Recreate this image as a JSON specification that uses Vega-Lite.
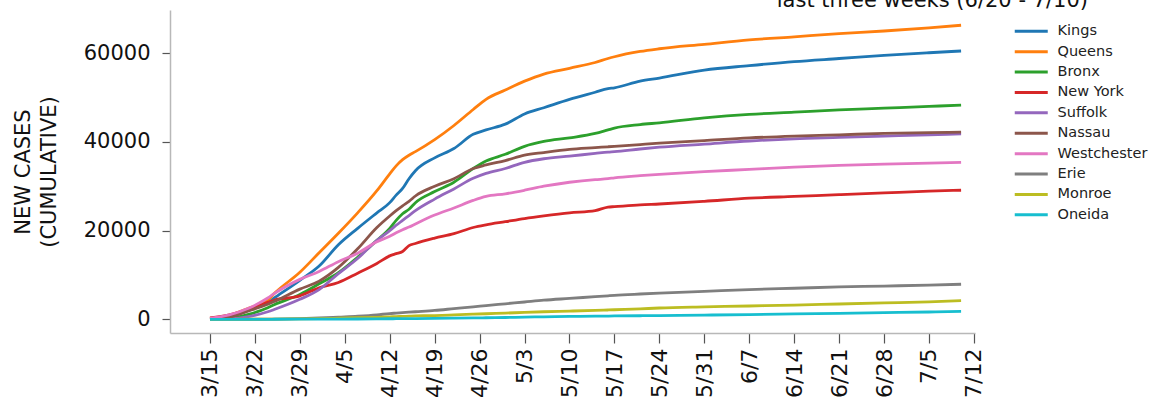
{
  "$schema": "https://vega.github.io/schema/vega-lite/v6.json",
  "width": 805,
  "height": 323,
  "autosize": {"type": "none"},
  "padding": {"left": 170, "top": 10, "right": 187, "bottom": 76},
  "background": "white",
  "title": {
    "text": "last three weeks (6/20 - 7/10)",
    "anchor": "end",
    "frame": "group",
    "dx": 113,
    "dy": 18,
    "offset": 0,
    "baseline": "alphabetic",
    "font": "DejaVu Sans",
    "fontSize": 21,
    "fontWeight": "normal",
    "color": "#111"
  },
  "data": {
    "values": [
      {"date": "2020-03-15", "Kings": 100, "Queens": 200, "Bronx": 0, "New York": 300, "Suffolk": 0, "Nassau": 0, "Westchester": 200, "Erie": 0, "Monroe": 0, "Oneida": 0},
      {"date": "2020-03-18", "Kings": 600, "Queens": 900, "Bronx": 200, "New York": 1000, "Suffolk": 100, "Nassau": 500, "Westchester": 1000, "Erie": 0, "Monroe": 0, "Oneida": 0},
      {"date": "2020-03-21", "Kings": 2000, "Queens": 2500, "Bronx": 1100, "New York": 2200, "Suffolk": 600, "Nassau": 1900, "Westchester": 2500, "Erie": 10, "Monroe": 10, "Oneida": 0},
      {"date": "2020-03-24", "Kings": 3800, "Queens": 4300, "Bronx": 2600, "New York": 3800, "Suffolk": 1700, "Nassau": 3400, "Westchester": 4800, "Erie": 30, "Monroe": 20, "Oneida": 0},
      {"date": "2020-03-25", "Kings": 4800, "Queens": 5800, "Bronx": 3300, "New York": 4300, "Suffolk": 2200, "Nassau": 4000, "Westchester": 5800, "Erie": 40, "Monroe": 30, "Oneida": 5},
      {"date": "2020-03-29", "Kings": 8800, "Queens": 10600, "Bronx": 5600, "New York": 5300, "Suffolk": 4500, "Nassau": 6800, "Westchester": 9000, "Erie": 150, "Monroe": 100, "Oneida": 20},
      {"date": "2020-04-01", "Kings": 12000, "Queens": 15000, "Bronx": 8000, "New York": 7100, "Suffolk": 6700, "Nassau": 8600, "Westchester": 10800, "Erie": 300, "Monroe": 150, "Oneida": 30},
      {"date": "2020-04-04", "Kings": 16800, "Queens": 19400, "Bronx": 10500, "New York": 8300, "Suffolk": 10300, "Nassau": 11700, "Westchester": 13000, "Erie": 500, "Monroe": 250, "Oneida": 50},
      {"date": "2020-04-07", "Kings": 20500, "Queens": 24000, "Bronx": 14000, "New York": 10400, "Suffolk": 13700, "Nassau": 15900, "Westchester": 14900, "Erie": 700, "Monroe": 350, "Oneida": 70},
      {"date": "2020-04-10", "Kings": 24000, "Queens": 29000, "Bronx": 17800, "New York": 12600, "Suffolk": 17800, "Nassau": 20700, "Westchester": 17500, "Erie": 1000, "Monroe": 450, "Oneida": 100},
      {"date": "2020-04-12", "Kings": 26300, "Queens": 32800, "Bronx": 20500, "New York": 14300, "Suffolk": 20000, "Nassau": 23300, "Westchester": 18700, "Erie": 1300, "Monroe": 550, "Oneida": 120},
      {"date": "2020-04-13", "Kings": 28000, "Queens": 34600, "Bronx": 22300, "New York": 14800, "Suffolk": 21200, "Nassau": 24500, "Westchester": 19500, "Erie": 1400, "Monroe": 600, "Oneida": 130},
      {"date": "2020-04-14", "Kings": 29500, "Queens": 36000, "Bronx": 23800, "New York": 15300, "Suffolk": 22300, "Nassau": 25600, "Westchester": 20200, "Erie": 1500, "Monroe": 650, "Oneida": 140},
      {"date": "2020-04-15", "Kings": 31700, "Queens": 37000, "Bronx": 24800, "New York": 16600, "Suffolk": 23400, "Nassau": 26600, "Westchester": 20800, "Erie": 1600, "Monroe": 700, "Oneida": 150},
      {"date": "2020-04-16", "Kings": 33500, "Queens": 37800, "Bronx": 26300, "New York": 17100, "Suffolk": 24500, "Nassau": 27800, "Westchester": 21500, "Erie": 1700, "Monroe": 750, "Oneida": 160},
      {"date": "2020-04-19", "Kings": 36400, "Queens": 40500, "Bronx": 28800, "New York": 18300, "Suffolk": 27100, "Nassau": 30000, "Westchester": 23500, "Erie": 2000, "Monroe": 850, "Oneida": 200},
      {"date": "2020-04-22", "Kings": 38500, "Queens": 43700, "Bronx": 30900, "New York": 19300, "Suffolk": 29400, "Nassau": 31700, "Westchester": 25100, "Erie": 2400, "Monroe": 1000, "Oneida": 250},
      {"date": "2020-04-25", "Kings": 41700, "Queens": 47300, "Bronx": 34000, "New York": 20700, "Suffolk": 31800, "Nassau": 34000, "Westchester": 26800, "Erie": 2800, "Monroe": 1150, "Oneida": 300},
      {"date": "2020-04-27", "Kings": 42700, "Queens": 49600, "Bronx": 35700, "New York": 21300, "Suffolk": 32900, "Nassau": 34800, "Westchester": 27700, "Erie": 3100, "Monroe": 1250, "Oneida": 350},
      {"date": "2020-04-30", "Kings": 44000, "Queens": 51700, "Bronx": 37200, "New York": 22000, "Suffolk": 34000, "Nassau": 35800, "Westchester": 28300, "Erie": 3500, "Monroe": 1400, "Oneida": 400},
      {"date": "2020-05-03", "Kings": 46300, "Queens": 53700, "Bronx": 39000, "New York": 22700, "Suffolk": 35400, "Nassau": 37000, "Westchester": 29100, "Erie": 3900, "Monroe": 1550, "Oneida": 500},
      {"date": "2020-05-06", "Kings": 47700, "Queens": 55300, "Bronx": 40100, "New York": 23300, "Suffolk": 36200, "Nassau": 37600, "Westchester": 30000, "Erie": 4300, "Monroe": 1700, "Oneida": 550},
      {"date": "2020-05-10", "Kings": 49600, "Queens": 56600, "Bronx": 40900, "New York": 24000, "Suffolk": 36800, "Nassau": 38300, "Westchester": 30900, "Erie": 4700, "Monroe": 1850, "Oneida": 650},
      {"date": "2020-05-14", "Kings": 51200, "Queens": 57900, "Bronx": 41900, "New York": 24500, "Suffolk": 37400, "Nassau": 38700, "Westchester": 31500, "Erie": 5100, "Monroe": 2000, "Oneida": 700},
      {"date": "2020-05-16", "Kings": 52000, "Queens": 58800, "Bronx": 42700, "New York": 25300, "Suffolk": 37700, "Nassau": 38900, "Westchester": 31700, "Erie": 5300, "Monroe": 2100, "Oneida": 730},
      {"date": "2020-05-17", "Kings": 52200, "Queens": 59200, "Bronx": 43100, "New York": 25400, "Suffolk": 37800, "Nassau": 39000, "Westchester": 31900, "Erie": 5400, "Monroe": 2150, "Oneida": 750},
      {"date": "2020-05-21", "Kings": 53700, "Queens": 60400, "Bronx": 43900, "New York": 25800, "Suffolk": 38400, "Nassau": 39400, "Westchester": 32400, "Erie": 5700, "Monroe": 2350, "Oneida": 800},
      {"date": "2020-05-24", "Kings": 54400, "Queens": 61000, "Bronx": 44300, "New York": 26000, "Suffolk": 38800, "Nassau": 39700, "Westchester": 32700, "Erie": 5900, "Monroe": 2550, "Oneida": 850},
      {"date": "2020-05-31", "Kings": 56200, "Queens": 62000, "Bronx": 45400, "New York": 26600, "Suffolk": 39500, "Nassau": 40300, "Westchester": 33300, "Erie": 6300, "Monroe": 2800, "Oneida": 950},
      {"date": "2020-06-07", "Kings": 57200, "Queens": 63000, "Bronx": 46200, "New York": 27300, "Suffolk": 40200, "Nassau": 40900, "Westchester": 33800, "Erie": 6700, "Monroe": 3000, "Oneida": 1050},
      {"date": "2020-06-14", "Kings": 58100, "Queens": 63700, "Bronx": 46700, "New York": 27700, "Suffolk": 40700, "Nassau": 41300, "Westchester": 34300, "Erie": 7000, "Monroe": 3200, "Oneida": 1200},
      {"date": "2020-06-21", "Kings": 58800, "Queens": 64400, "Bronx": 47200, "New York": 28100, "Suffolk": 41000, "Nassau": 41600, "Westchester": 34700, "Erie": 7300, "Monroe": 3450, "Oneida": 1350},
      {"date": "2020-06-28", "Kings": 59500, "Queens": 65000, "Bronx": 47600, "New York": 28500, "Suffolk": 41300, "Nassau": 41900, "Westchester": 35000, "Erie": 7500, "Monroe": 3700, "Oneida": 1500},
      {"date": "2020-07-05", "Kings": 60100, "Queens": 65700, "Bronx": 48000, "New York": 28900, "Suffolk": 41600, "Nassau": 42100, "Westchester": 35200, "Erie": 7700, "Monroe": 3950, "Oneida": 1650},
      {"date": "2020-07-10", "Kings": 60500, "Queens": 66300, "Bronx": 48300, "New York": 29100, "Suffolk": 41800, "Nassau": 42200, "Westchester": 35400, "Erie": 7900, "Monroe": 4200, "Oneida": 1800}
    ]
  },
  "transform": [
    {"fold": ["Kings", "Queens", "Bronx", "New York", "Suffolk", "Nassau", "Westchester", "Erie", "Monroe", "Oneida"], "as": ["county", "cases"]}
  ],
  "mark": {"type": "line", "strokeWidth": 2.8, "interpolate": "monotone", "clip": true},
  "encoding": {
    "x": {
      "field": "date",
      "type": "temporal",
      "scale": {
        "type": "utc",
        "domain": [
          {"year": 2020, "month": 3, "date": 8, "hours": 18, "minutes": 30, "utc": true},
          {"year": 2020, "month": 7, "date": 12, "hours": 4, "utc": true}
        ]
      },
      "axis": {
        "title": null,
        "labelExpr": "utcFormat(datum.value, '%-m/%-d')",
        "tickCount": {"interval": "week", "step": 1},
        "labelAngle": -90,
        "labelAlign": "right",
        "labelBaseline": "middle",
        "labelPadding": 5,
        "labelFontSize": 22,
        "labelFont": "DejaVu Sans",
        "labelColor": "#111",
        "tickSize": 10,
        "tickColor": "#555",
        "tickWidth": 1.2,
        "domainColor": "#b8b8b8",
        "domainWidth": 1.5,
        "grid": false,
        "labelOverlap": false,
        "labelFlush": false
      }
    },
    "y": {
      "field": "cases",
      "type": "quantitative",
      "scale": {"domain": [-3090, 69740], "nice": false, "zero": false},
      "axis": {
        "title": ["NEW CASES", "(CUMULATIVE)"],
        "titleFont": "DejaVu Sans",
        "titleFontSize": 21,
        "titleFontWeight": "normal",
        "titleColor": "#111",
        "titleLineHeight": 26,
        "titlePadding": 24,
        "values": [0, 20000, 40000, 60000],
        "format": "d",
        "labelFontSize": 21,
        "labelFont": "DejaVu Sans",
        "labelColor": "#111",
        "labelPadding": 12,
        "tickSize": 8,
        "tickColor": "#555",
        "tickWidth": 1.2,
        "domainColor": "#b8b8b8",
        "domainWidth": 1.5,
        "grid": false
      }
    },
    "color": {
      "field": "county",
      "type": "nominal",
      "scale": {
        "domain": ["Kings", "Queens", "Bronx", "New York", "Suffolk", "Nassau", "Westchester", "Erie", "Monroe", "Oneida"],
        "range": ["#1f77b4", "#ff7f0e", "#2ca02c", "#d62728", "#9467bd", "#8c564b", "#e377c2", "#7f7f7f", "#bcbd22", "#17becf"]
      },
      "legend": {
        "title": null,
        "orient": "none",
        "legendX": 854,
        "legendY": 14,
        "symbolType": "M-3,0H3",
        "symbolSize": 121,
        "symbolStrokeWidth": 3,
        "labelFont": "DejaVu Sans",
        "labelFontSize": 14.5,
        "labelColor": "#222",
        "labelOffset": 19,
        "rowPadding": 5.4,
        "padding": 0
      }
    }
  },
  "config": {"view": {"stroke": null}}
}
